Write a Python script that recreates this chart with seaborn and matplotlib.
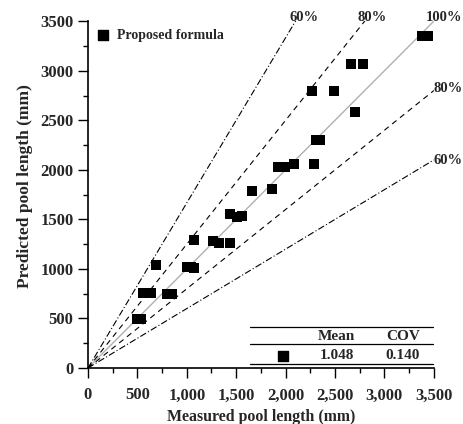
import matplotlib
matplotlib.use("Agg")
import matplotlib.pyplot as plt
import seaborn as sns
import numpy as np
import pandas as pd

measured = [500, 540, 690, 560, 640, 800, 850, 1070, 1000, 1040, 1070, 1270, 1330,
            1440, 1440, 1510, 1560, 1660, 1860, 1920, 1990, 2080, 2290, 2310, 2350,
            2700, 2270, 2490, 2660, 2780, 3380, 3440]
predicted = [490, 490, 1040, 760, 760, 750, 750, 1290, 1020, 1020, 1010, 1280, 1260,
             1260, 1550, 1520, 1530, 1790, 1810, 2030, 2030, 2060, 2060, 2300, 2300,
             2580, 2800, 2800, 3070, 3070, 3350, 3350]
x_ticks = [0, 500, 1000, 1500, 2000, 2500, 3000, 3500]
y_ticks = [0, 500, 1000, 1500, 2000, 2500, 3000, 3500]
mean_val = "1.048"
cov_val = "0.140"

df = pd.DataFrame({"Measured": measured, "Predicted": predicted})

sns.set_style("ticks")
plt.rcParams['font.family'] = ['Liberation Serif', 'DejaVu Serif']
plt.rcParams['font.weight'] = 'bold'

fig = plt.figure(figsize=(4.63, 4.24), dpi=100)
ax = fig.add_axes([0.19, 0.132, 0.747, 0.818])

lim = 3500
xs = np.array([0, lim])
ax.plot(xs, xs, color="#b0b0b0", lw=1.0, zorder=1)
ax.plot(xs, xs / 0.8, color="black", lw=0.8, ls=(0, (5, 4)), zorder=1)
ax.plot(xs, xs * 0.8, color="black", lw=0.8, ls=(0, (5, 4)), zorder=1)
ax.plot(xs, xs / 0.6, color="black", lw=0.8, ls=(0, (6, 2, 1, 2)), zorder=1)
ax.plot(xs, xs * 0.6, color="black", lw=0.8, ls=(0, (6, 2, 1, 2)), zorder=1)

sns.scatterplot(data=df, x="Measured", y="Predicted", marker="s", color="black",
                s=52, edgecolor="none", ax=ax, zorder=3, legend=False)

ax.set_xlim(0, lim)
ax.set_ylim(0, lim)
ax.set_xticks(x_ticks)
ax.set_xticklabels([f"{v:,}" for v in x_ticks])
ax.set_yticks(y_ticks)
ax.set_yticklabels([str(v) for v in y_ticks])
ax.set_xticks(np.arange(250, lim, 500), minor=True)
ax.set_yticks(np.arange(250, lim, 500), minor=True)
ax.tick_params(which="major", length=7, width=1, labelsize=12, direction="out", color="black")
ax.tick_params(axis="x", which="major", pad=7)
ax.tick_params(which="minor", length=3.5, width=1, direction="out", color="black")
for lab in ax.get_xticklabels() + ax.get_yticklabels():
    lab.set_fontweight("bold")
sns.despine(ax=ax)
for sp in ["left", "bottom"]:
    ax.spines[sp].set_linewidth(1.2)
    ax.spines[sp].set_color("black")

ax.set_xlabel("Measured pool length (mm)", fontsize=11.4, fontweight="bold", va="center")
ax.xaxis.set_label_coords(0.5, -0.140)
ax.set_ylabel("Predicted pool length (mm)", fontsize=12.5, fontweight="bold", va="center")
ax.yaxis.set_label_coords(-0.182, 0.526)

# percentage labels
lab_kw = dict(fontsize=10.5, fontweight="bold", ha="center", va="center", clip_on=False)
ax.text(2185, 3540, "60%", **lab_kw)
ax.text(2873, 3540, "80%", **lab_kw)
ax.text(3605, 3540, "100%", **lab_kw)
ax.text(3640, 2824, "80%", **lab_kw)
ax.text(3640, 2098, "60%", **lab_kw)

# legend
ax.scatter([0.043], [0.96], marker="s", s=52, color="black", transform=ax.transAxes, clip_on=False)
ax.text(0.084, 0.96, "Proposed formula", transform=ax.transAxes, fontsize=10,
        fontweight="bold", va="center", ha="left")

# statistics table
for yy in [0.117, 0.069, 0.0115]:
    ax.plot([0.468, 0.997], [yy, yy], color="black", lw=0.9, transform=ax.transAxes, clip_on=False)
tab_kw = dict(transform=ax.transAxes, fontsize=11, fontweight="bold", ha="center", va="center")
ax.text(0.719, 0.090, "Mean", **tab_kw)
ax.text(0.910, 0.090, "COV", **tab_kw)
ax.scatter([0.564], [0.035], marker="s", s=52, color="black", transform=ax.transAxes)
ax.text(0.719, 0.035, mean_val, **tab_kw)
ax.text(0.910, 0.035, cov_val, **tab_kw)

fig.savefig("out.png", dpi=100)
